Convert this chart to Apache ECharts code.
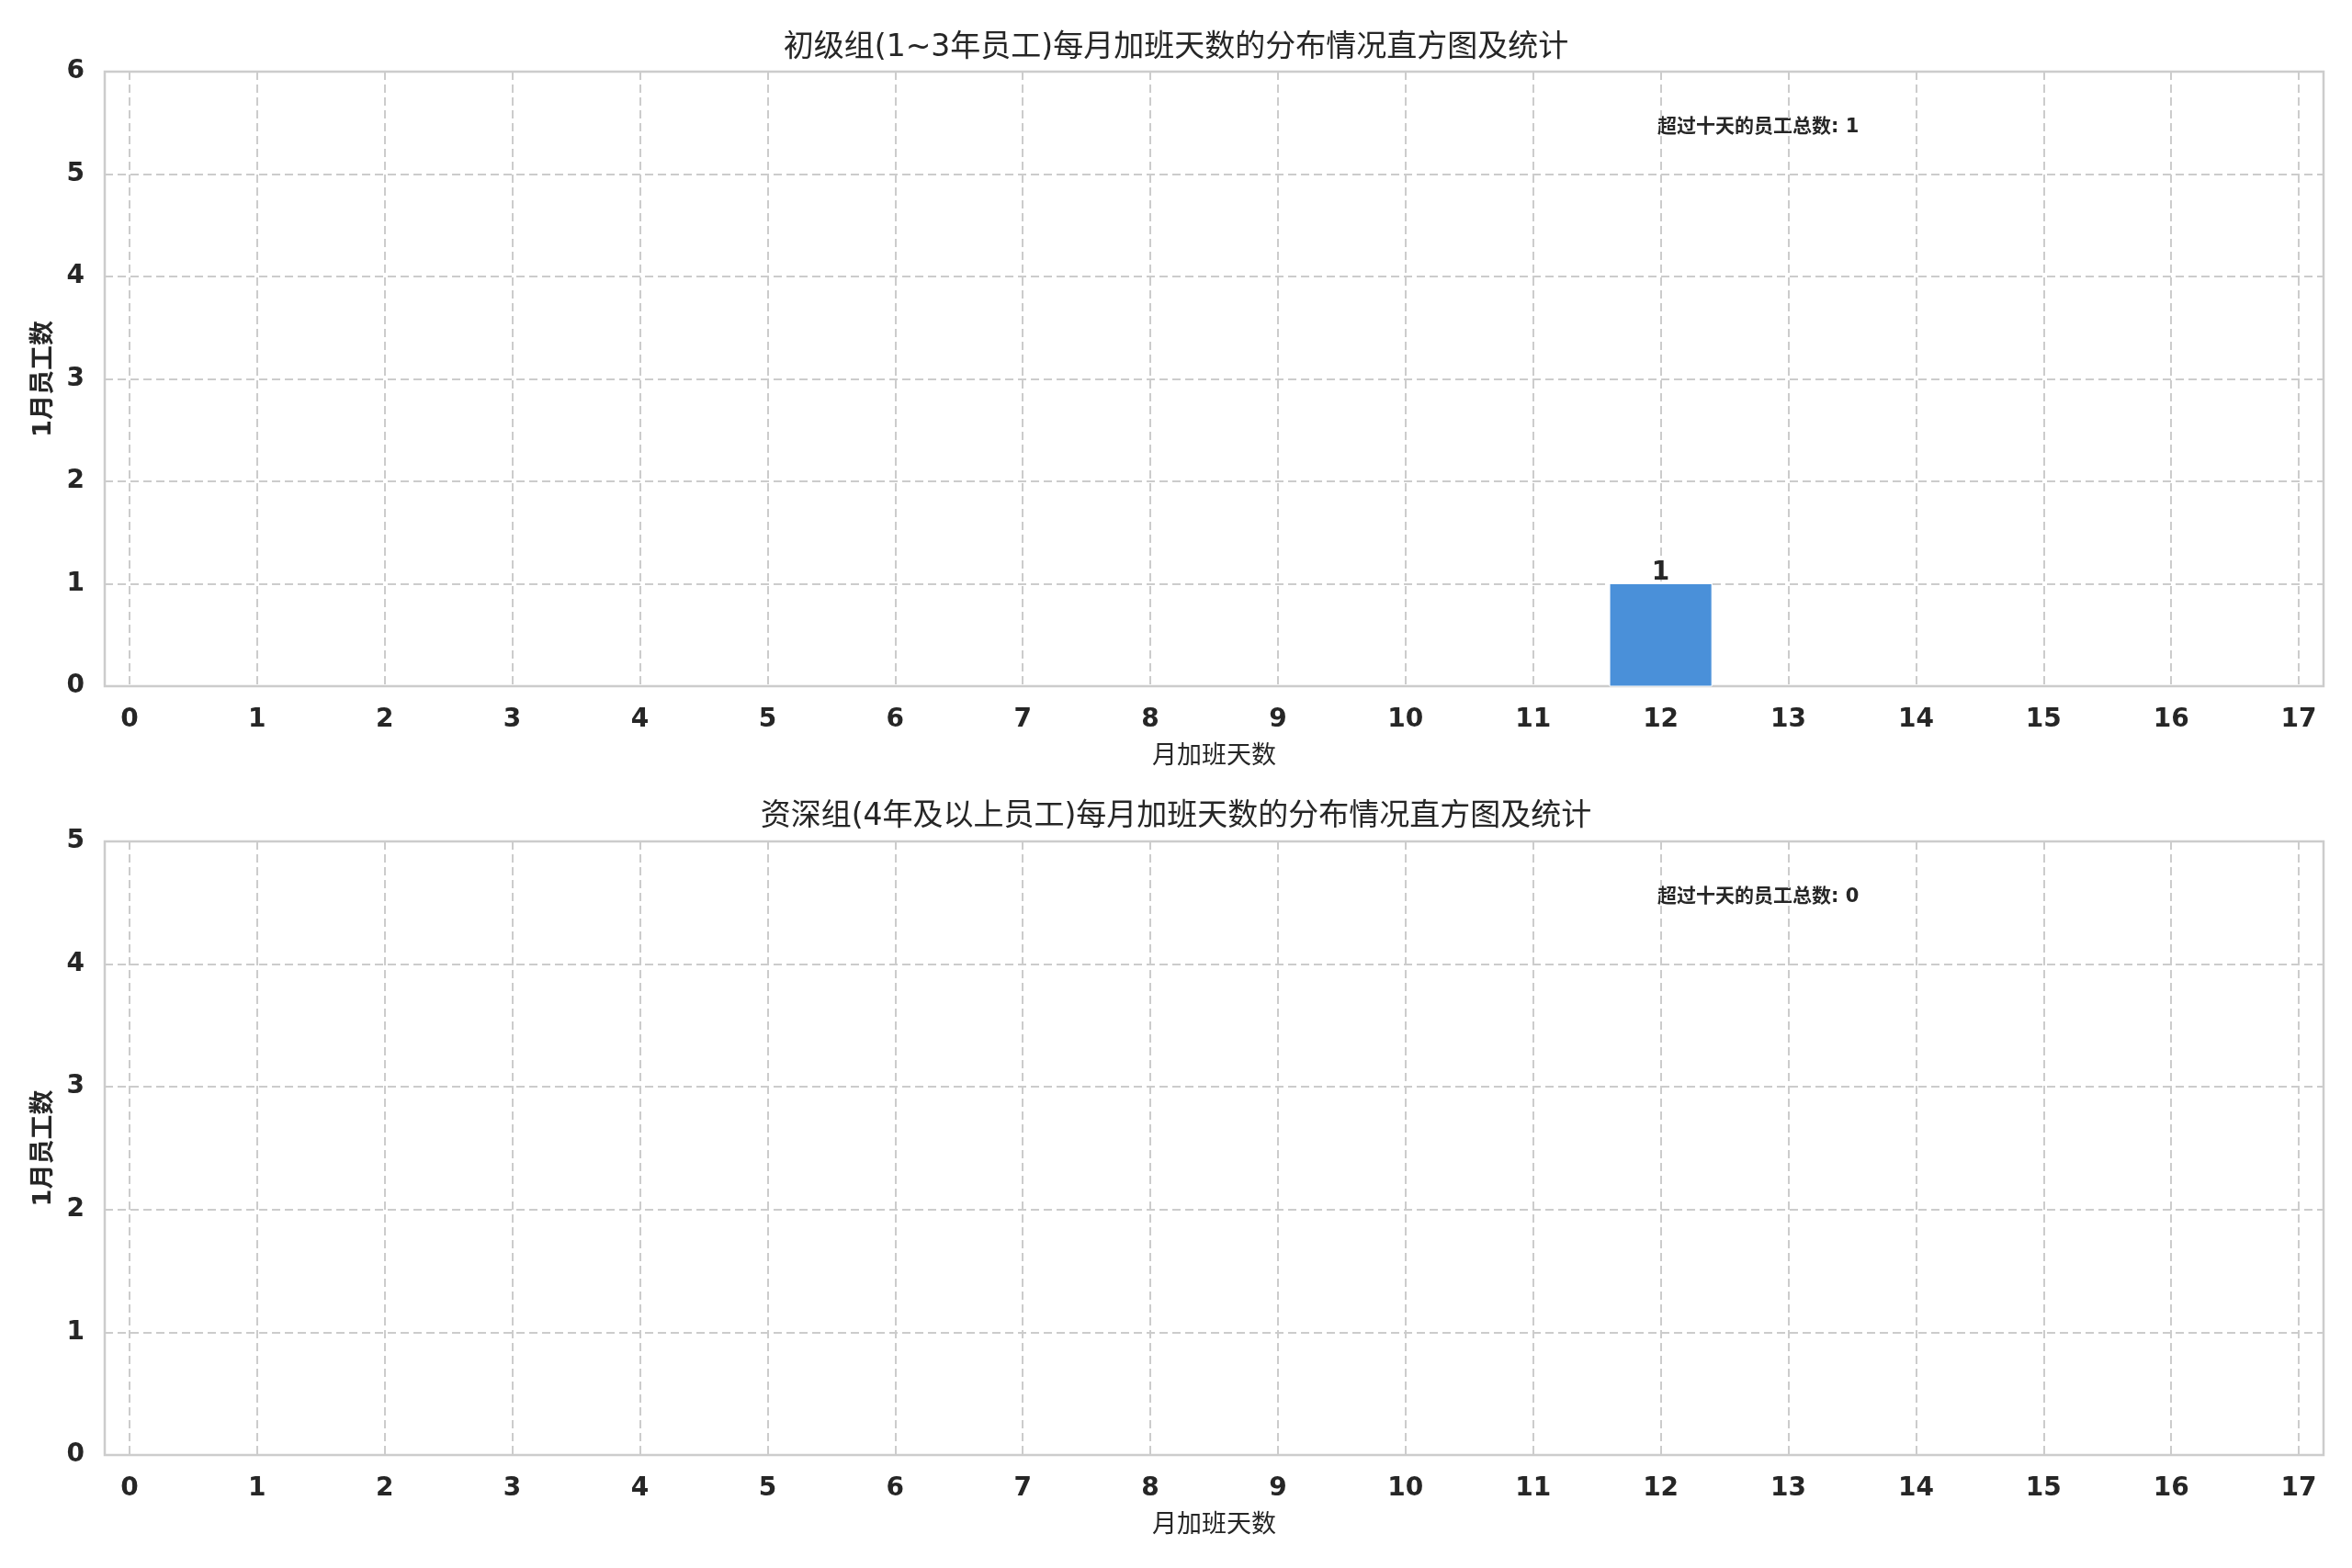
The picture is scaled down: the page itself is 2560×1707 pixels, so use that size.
<!DOCTYPE html>
<html>
<head>
<meta charset="utf-8">
<script src="https://cdn.jsdelivr.net/npm/echarts@6/dist/echarts.min.js"></script>
<style>
html,body{margin:0;padding:0;background:#fff;}
#chart{width:2560px;height:1707px;}
</style>
</head>
<body>
<div id="chart"></div>
<script>
// ---- data ----
const bins = [0,1,2,3,4,5,6,7,8,9,10,11,12,13,14,15,16,17];
const countsJunior = [0,0,0,0,0,0,0,0,0,0,0,0,1,0,0,0,0,0];
const countsSenior = [0,0,0,0,0,0,0,0,0,0,0,0,0,0,0,0,0,0];
const titleJunior = '初级组(1~3年员工)每月加班天数的分布情况直方图及统计';
const titleSenior = '资深组(4年及以上员工)每月加班天数的分布情况直方图及统计';
const xLabel = '月加班天数';
const yLabel = '1月员工数';
const noteLabel = '超过十天的员工总数';
const noteJunior = 1;
const noteSenior = 0;
const yTicksJunior = [0,1,2,3,4,5,6];
const yTicksSenior = [0,1,2,3,4,5];

const FONT = 'DejaVu Sans, "Noto Sans CJK SC", sans-serif';
const TXT = '#262626';
const GRID_C = '#cccccc';

const chart = echarts.init(document.getElementById('chart'), null, {renderer: 'canvas'});

function xAxisCfg(gi) {
  return {
    type: 'value', gridIndex: gi, min: -0.194, max: 17.194,
    name: xLabel, nameLocation: 'middle', nameGap: 63,
    nameTextStyle: {fontFamily: FONT, fontSize: 27, color: TXT},
    axisLine: {show: false},
    axisTick: {show: false, customValues: bins},
    axisLabel: {customValues: bins, fontFamily: FONT, fontSize: 28, fontWeight: 'bold', color: TXT, margin: 23},
    splitLine: {show: true, lineStyle: {color: GRID_C, width: 2, type: [9, 5]}}
  };
}
function yAxisCfg(gi, ticks) {
  return {
    type: 'value', gridIndex: gi, min: ticks[0], max: ticks[ticks.length-1], interval: 1,
    name: yLabel, nameLocation: 'middle', nameGap: 52, nameRotate: 90,
    nameTextStyle: {fontFamily: FONT, fontSize: 27, fontWeight: 'bold', color: TXT},
    axisLine: {show: false},
    axisTick: {show: false},
    axisLabel: {fontFamily: FONT, fontSize: 28, fontWeight: 'bold', color: TXT, margin: 22},
    splitLine: {show: true, lineStyle: {color: GRID_C, width: 2, type: [9, 5]}}
  };
}
function barSeries(gi, counts) {
  return {
    type: 'custom', xAxisIndex: gi, yAxisIndex: gi,
    data: bins.map((b, i) => [b, counts[i]]),
    renderItem: function (params, api) {
      const x = api.value(0), y = api.value(1);
      if (!y) return null;
      const p0 = api.coord([x - 0.4, y]);
      const p1 = api.coord([x + 0.4, 0]);
      return {
        type: 'group',
        children: [
          {type: 'rect', shape: {x: p0[0], y: p0[1], width: p1[0]-p0[0], height: p1[1]-p0[1]},
           style: {fill: '#4a90d9', stroke: '#ffffff', lineWidth: 1}},
          {type: 'text', x: (p0[0]+p1[0])/2, y: p0[1] + 2,
           style: {text: String(y), fontFamily: FONT, fontSize: 28, fontWeight: 'bold', fill: TXT,
                   align: 'center', verticalAlign: 'bottom'}}
        ]
      };
    }
  };
}

chart.setOption({
  backgroundColor: '#ffffff',
  animation: false,
  title: [
    {text: titleJunior, left: 'center', top: 31, textStyle: {fontFamily: FONT, fontSize: 33, fontWeight: 'normal', color: TXT}},
    {text: titleSenior, left: 'center', top: 868, textStyle: {fontFamily: FONT, fontSize: 33, fontWeight: 'normal', color: TXT}}
  ],
  grid: [
    {left: 114, top: 78, width: 2415, height: 669, show: true, borderColor: GRID_C, borderWidth: 2.5, backgroundColor: 'transparent'},
    {left: 114, top: 916, width: 2415, height: 668, show: true, borderColor: GRID_C, borderWidth: 2.5, backgroundColor: 'transparent'}
  ],
  xAxis: [xAxisCfg(0), xAxisCfg(1)],
  yAxis: [yAxisCfg(0, yTicksJunior), yAxisCfg(1, yTicksSenior)],
  graphic: [
    {type: 'text', left: 1804, top: 128, style: {text: noteLabel + ': ' + noteJunior, fontFamily: FONT, fontSize: 21, fontWeight: 'bold', fill: TXT}},
    {type: 'text', left: 1804, top: 966, style: {text: noteLabel + ': ' + noteSenior, fontFamily: FONT, fontSize: 21, fontWeight: 'bold', fill: TXT}}
  ],
  series: [barSeries(0, countsJunior), barSeries(1, countsSenior)]
});
</script>
</body>
</html>
